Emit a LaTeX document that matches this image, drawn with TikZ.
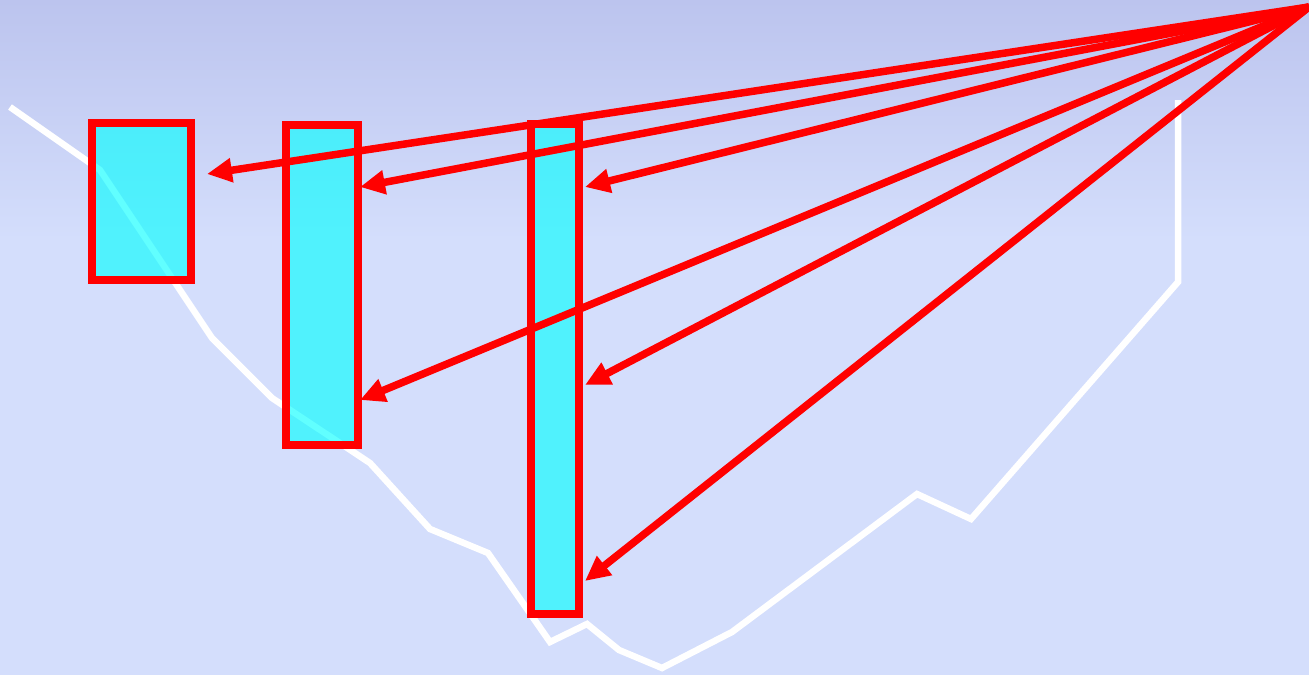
\documentclass[tikz,border=0pt]{standalone}
\usetikzlibrary{arrows.meta}
\definecolor{bgtop}{HTML}{BCC4EE}
\definecolor{bgbot}{HTML}{D4DEFC}
\definecolor{aqua}{RGB}{0,255,255}
\definecolor{pure red}{RGB}{255,0,0}
\tikzset{
  ridge/.style={white, line width=6.5pt, line join=miter},
  box/.style={draw=pure red, line width=8.5pt, fill=aqua, fill opacity=0.62, draw opacity=1},
  ray/.style={pure red, line width=7.5pt, -{Triangle[length=25pt,width=23pt]}},
}
\begin{document}
\begin{tikzpicture}[x=1pt,y=-1pt]
\useasboundingbox (0,0) rectangle (1309,675);
\fill[bgbot] (0,0) rectangle (1309,675);
\shade[top color=bgtop, bottom color=bgbot] (0,0) rectangle (1309,240);
% white profile line
\draw[ridge] (10,107) -- (100,170) -- (212,338) -- (272,398) -- (370,463) -- (430,529) -- (488,553) -- (550,642) -- (587,624) -- (619,650) -- (662,668) -- (732,632) -- (917,494) -- (971,519) -- (1178,282) -- (1178,100);
% boxes
\draw[box] (92,123) rectangle (191,280) node[pos=0.5, inner sep=0] (b1) {};
\draw[box] (286,125) rectangle (358,445) node[pos=0.5, inner sep=0] (b2) {};
\draw[box] (531,124) rectangle (579,614) node[pos=0.5, inner sep=0] (b3) {};
% rays
\coordinate (apex) at (1309,7);
\coordinate (t1) at (207,174);
\coordinate (t2) at (360,187);
\coordinate (t3) at (585,187);
\coordinate (t4) at (360,400);
\coordinate (t5) at (585,385);
\coordinate (t6) at (585,581);
\foreach \t in {t1,t2,t3,t4,t5,t6}
  \draw[ray] (apex) -- (\t);
\end{tikzpicture}
\end{document}
